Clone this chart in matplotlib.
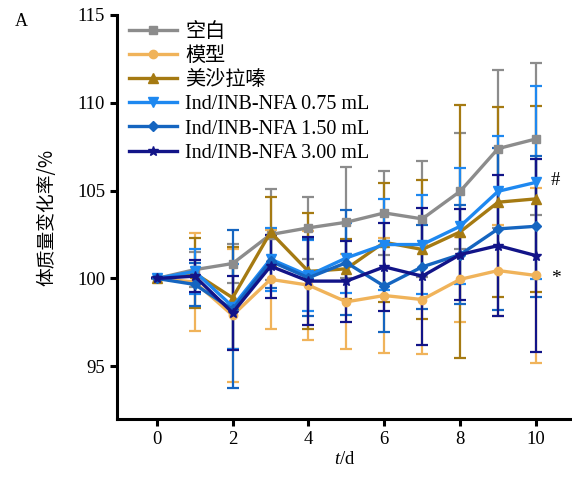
import matplotlib
matplotlib.use("Agg")
import matplotlib.pyplot as plt
from matplotlib.lines import Line2D

days = [0, 1, 2, 3, 4, 5, 6, 7, 8, 9, 10]
labels = ["空白", "模型", "美沙拉嗪", "Ind/INB-NFA 0.75 mL", "Ind/INB-NFA 1.50 mL", "Ind/INB-NFA 3.00 mL"]

blank = [100, 100.5, 100.85, 102.5, 102.88, 103.2, 103.73, 103.39, 104.96, 107.39, 107.94]
blank_err = [0, 1.0, 1.1, 2.6, 1.76, 3.16, 2.4, 3.3, 3.3, 4.5, 4.35]

model = [100, 99.8, 97.9, 99.95, 99.62, 98.67, 99.03, 98.8, 99.95, 100.45, 100.17]
model_err = [0, 2.8, 3.8, 2.8, 3.1, 2.7, 3.25, 3.1, 2.4, 2.6, 5.0]

mesal = [100, 100.3, 98.9, 102.63, 100.4, 100.55, 102.06, 101.65, 102.65, 104.34, 104.53]
mesal_err = [0, 2.0, 2.9, 2.0, 3.3, 1.7, 3.4, 3.95, 7.2, 5.4, 5.3]

ind075 = [100, 100.4, 98.4, 101.1, 100.17, 101.17, 101.93, 101.93, 102.97, 104.96, 105.47]
ind075_err = [0, 1.3, 2.4, 1.8, 2.0, 2.0, 2.6, 2.8, 3.3, 3.15, 5.5]

ind150 = [100, 99.66, 98.24, 100.98, 100.04, 100.9, 99.56, 100.66, 101.36, 102.82, 102.97]
ind150_err = [0, 1.2, 4.5, 1.5, 2.2, 3.0, 2.6, 2.4, 2.8, 4.6, 4.0]

ind300 = [100, 100.13, 98.05, 100.7, 99.85, 99.85, 100.66, 100.13, 101.36, 101.87, 101.3]
ind300_err = [0, 0.9, 2.1, 1.8, 2.5, 2.3, 2.5, 3.9, 2.6, 4.0, 5.5]

series = [blank, model, mesal, ind075, ind150, ind300]
errors = [blank_err, model_err, mesal_err, ind075_err, ind150_err, ind300_err]
colors = ["#8C8C8C", "#F0B35A", "#A57A12", "#1E88F0", "#1565C0", "#121488"]
markers = ["s", "o", "^", "v", "D", "*"]
msizes = [5.5, 6, 6.5, 7, 5.5, 7.5]

plt.rcParams['font.family'] = ['Liberation Serif', 'Noto Sans CJK SC']
plt.rcParams['mathtext.fontset'] = 'custom'
plt.rcParams['mathtext.it'] = 'Liberation Serif:italic'
plt.rcParams['mathtext.rm'] = 'Liberation Serif'

fig = plt.figure(figsize=(5.72, 4.8), dpi=100)
ax = fig.add_axes([0.2045, 0.127, 0.7955, 0.842])

handles = []
for y, e, c, m, ms, lab in zip(series, errors, colors, markers, msizes, labels):
    ax.errorbar(days, y, yerr=e, color=c, marker=m, markersize=ms, linewidth=2.4,
                elinewidth=1.6, capsize=4.5, capthick=1.6)
    handles.append(Line2D([], [], color=c, marker=m, markersize=ms, linewidth=2.4, label=lab))

ax.set_xlim(-1.05, 10.95)
ax.set_ylim(92, 115)
ax.set_xticks([0, 2, 4, 6, 8, 10])
ax.set_yticks([95, 100, 105, 110, 115])
for s in ['top', 'right']:
    ax.spines[s].set_visible(False)
for s in ['left', 'bottom']:
    ax.spines[s].set_linewidth(2.2)
ax.tick_params(axis='both', width=2.2, length=5, labelsize=13.5)
ax.set_xlabel("$t$/d", fontsize=13.5, labelpad=2)
ax.set_ylabel("体质量变化率/%", fontsize=13.5, family=['Noto Sans CJK SC', 'DejaVu Sans'], labelpad=14)

ax.legend(handles=handles, loc='upper left', bbox_to_anchor=(0.0, 1.01), frameon=False, fontsize=14.5,
          handlelength=2.4, labelspacing=0.25, handletextpad=0.4, borderaxespad=0.2)

fig.text(0.026, 0.955, "A", fontsize=13, ha='left', va='center')
ax.text(10.4, 105.6, "#", fontsize=13.5, ha='left', va='center')
ax.text(10.4, 100.0, "*", fontsize=14, ha='left', va='center')

fig.savefig("out.png", dpi=100)
